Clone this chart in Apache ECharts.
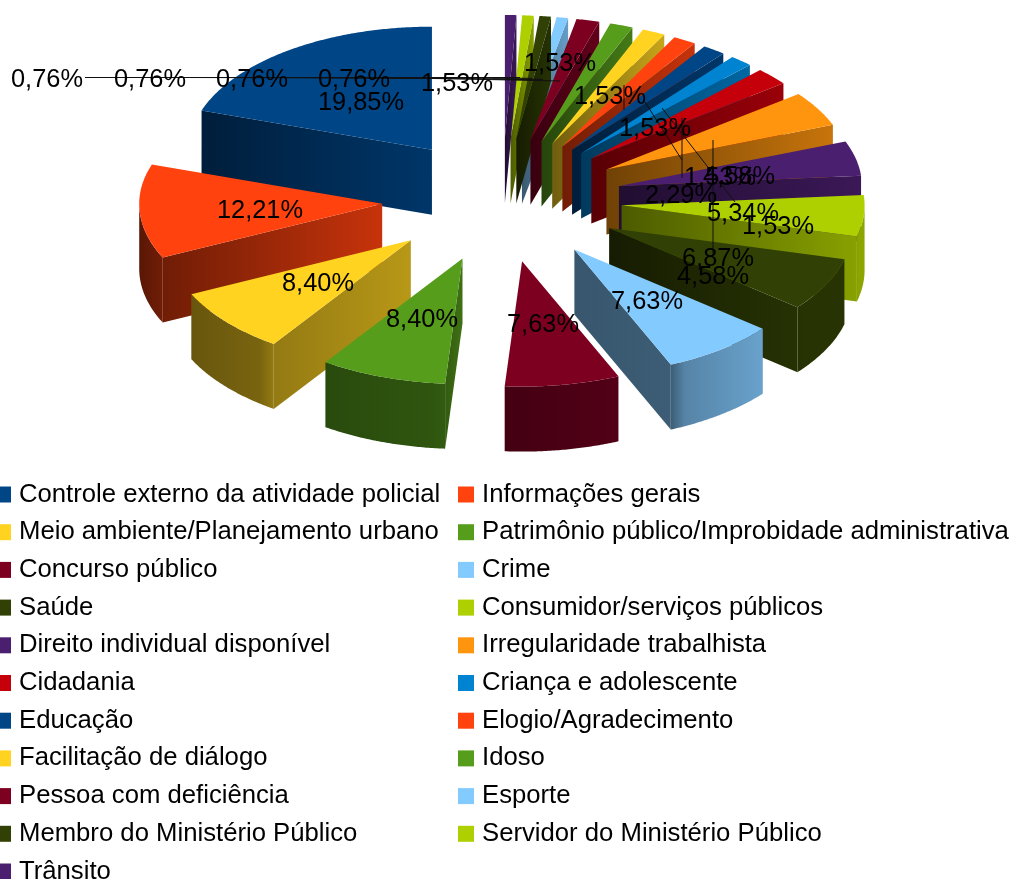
<!DOCTYPE html>
<html>
<head>
<meta charset="utf-8">
<title>Pizza 3D</title>
<style>
html,body{margin:0;padding:0;background:#fff;}
#main{width:1014px;height:879px;}
</style>
<script src="https://cdn.jsdelivr.net/npm/echarts@6/dist/echarts.min.js"></script>
</head>
<body>
<div id="main"></div>
<script>
// dados, sentido anti-horario a partir do topo
var categories=['Controle externo da atividade policial','Informações gerais','Meio ambiente/Planejamento urbano','Patrimônio público/Improbidade administrativa','Concurso público','Crime','Saúde','Consumidor/serviços públicos','Direito individual disponível','Irregularidade trabalhista','Cidadania','Criança e adolescente','Educação','Elogio/Agradecimento','Facilitação de diálogo','Idoso','Pessoa com deficiência','Esporte','Membro do Ministério Público','Servidor do Ministério Público','Trânsito'];
var percent=[19.85,12.21,8.40,8.40,7.63,7.63,6.87,5.34,4.58,4.58,2.29,1.53,1.53,1.53,1.53,1.53,1.53,0.76,0.76,0.76,0.76];
var colors=['#004586','#ff420e','#ffd320','#579d1c','#7e0021','#83caff','#314004','#aecf00','#4b1f6f','#ff950e','#c5000b','#0084d1','#004586','#ff420e','#ffd320','#579d1c','#7e0021','#83caff','#314004','#aecf00','#4b1f6f'];

// posicao dos rotulos e linhas de chamada (o LibreOffice espalhou tudo)
var labelPos=[[361,103],[260,211],[318,284],[422,320],[543,325],[647,302],[718,259],[743,214],[713,277],[739,177],[681,196],[778,227],[720,178],[655,129],[610,97],[560,64],[457,84],[354,80],[252,80],[150,80],[47,80]];
var leaders=[[85,77.5,520,77.5],[187,77.5,532,78.3],[289,77.5,543,79.3],[390,77.5,560,81],[493,79,543,80],[713,140,713,255],[645,102,682,160],[682,118,682,178],[662,108,735,202],[624,85,624,110]];

var cx=502,cy=200,ex=120,ey=62,rx=243,ry=123,depth=65;
var total=0;
for(var i=0;i<percent.length;i++){ total+=percent[i]; }

function rad(a){ return a*Math.PI/180; }

function shadeColor(hex,f){
	var r=parseInt(hex.substr(1,2),16),g=parseInt(hex.substr(3,2),16),b=parseInt(hex.substr(5,2),16);
	return 'rgb('+Math.round(r*f)+','+Math.round(g*f)+','+Math.round(b*f)+')';
}

// ponto do arco externo de uma fatia (a frente fica um pouco maior, perspectiva)
function rimPoint(ax,ay,a){
	var c=Math.cos(rad(a));
	return [ax-rx*Math.sin(rad(a)),ay-ry*(c<0?1.02:1)*c];
}

// luz das faces de corte: [fator esquerda, fator direita]
function cutShade(normal,a){
	if(normal<130) return [0.43,0.46];
	if(a<180&&normal>215) return [0.58,0.72];
	return [0.44,0.78];
}

function wallShade(a){
	if(a<180) return 0.35+0.2*(a-90)/90;
	if(a<195) return 0.55;
	return 0.55+0.25*Math.min(1,(a-195)/20);
}

function down(p){ return [p[0],p[1]+depth]; }

function cutFace(apex,rim,color,shade){
	var left=apex[0]<rim[0]?apex:rim, right=apex[0]<rim[0]?rim:apex;
	return {
		type:'polygon',
		shape:{points:[apex,rim,down(rim),down(apex)]},
		style:{fill:new echarts.graphic.LinearGradient(left[0],0,Math.max(right[0],left[0]+1),0,[
			{offset:0,color:shadeColor(color,shade[0])},
			{offset:1,color:shadeColor(color,shade[1])}
		],true)}
	};
}

function sliceItem(startPct,value,color){
	return function(params,api){
		var a0=startPct/total*360, a1=(startPct+api.value(0))/total*360, mid=(a0+a1)/2;
		var ax=cx-ex*Math.sin(rad(mid)), ay=cy-ey*Math.cos(rad(mid));
		var apex=[ax,ay], children=[], pts=[apex], a, n;

		// faces de corte voltadas para a frente
		var startNormal=a0-90, endNormal=a1+90;
		var startVisible=Math.cos(rad(startNormal))<0, endVisible=Math.cos(rad(endNormal))<0;
		var startCut=cutShade(startNormal,a0), endCut=cutShade(endNormal,a1);
		if(startVisible) children.push(cutFace(apex,rimPoint(ax,ay,a0),color,startCut));
		if(endVisible) children.push(cutFace(apex,rimPoint(ax,ay,a1),color,endCut));

		// parede externa, so a parte de baixo do arco
		var w0=Math.max(a0,90), w1=Math.min(a1,270);
		if(w1>w0){
			var topEdge=[], bottomEdge=[];
			n=Math.ceil(w1-w0)*2;
			for(var k=0;k<=n;k++){
				a=w0+(w1-w0)*k/n;
				var p=rimPoint(ax,ay,a);
				topEdge.push(p);
				bottomEdge.unshift(down(p));
			}
			var x0=topEdge[0][0], x1=topEdge[topEdge.length-1][0];
			var blend=Math.min(0.4,14/Math.max(1,x1-x0));
			var stops=[];
			if(startVisible&&w0==a0){
				stops.push({offset:0,color:shadeColor(color,startCut[1])});
				stops.push({offset:blend,color:shadeColor(color,wallShade(w0))});
			}else{
				stops.push({offset:0,color:shadeColor(color,wallShade(w0))});
			}
			if(endVisible&&w1==a1){
				stops.push({offset:1-blend,color:shadeColor(color,wallShade(w1))});
				stops.push({offset:1,color:shadeColor(color,endCut[0])});
			}else{
				stops.push({offset:1,color:shadeColor(color,wallShade(w1))});
			}
			children.push({
				type:'polygon',
				shape:{points:topEdge.concat(bottomEdge)},
				style:{fill:new echarts.graphic.LinearGradient(x0,0,Math.max(x1,x0+1),0,stops,true)}
			});
		}

		// tampa
		n=Math.ceil(a1-a0)*2;
		for(var j=0;j<=n;j++){
			pts.push(rimPoint(ax,ay,a0+(a1-a0)*j/n));
		}
		children.push({type:'polygon',shape:{points:pts},style:{fill:color}});
		return {type:'group',children:children};
	};
}

function labelText(v){
	return v.toFixed(2).replace('.',',')+'%';
}

var series=[];
var acum=0;
for(var s=0;s<categories.length;s++){
	var midAngle=(acum+percent[s]/2)/total*360;
	series.push({
		name:categories[s],
		type:'custom',
		coordinateSystem:'none',
		silent:true,
		animation:false,
		z:10+Math.round((1-Math.cos(rad(midAngle)))*100),
		itemStyle:{color:colors[s]},
		renderItem:sliceItem(acum,percent[s],colors[s]),
		data:[[percent[s]]]
	});
	acum+=percent[s];
}

// rotulos e chamadas por cima de tudo
series.push({
	name:'rotulos',
	type:'custom',
	coordinateSystem:'none',
	silent:true,
	animation:false,
	z:500,
	renderItem:function(params,api){
		var idx=params.dataIndex, children=[];
		if(idx==0){
			for(var l=0;l<leaders.length;l++){
				children.push({
					type:'line',
					shape:{x1:leaders[l][0],y1:leaders[l][1],x2:leaders[l][2],y2:leaders[l][3]},
					style:{stroke:'#111',lineWidth:1}
				});
			}
		}
		children.push({
			type:'text',
			style:{
				text:labelText(api.value(0)),
				x:labelPos[idx][0],y:labelPos[idx][1],
				fill:'#000',
				font:'25.4px "Liberation Sans"',
				textAlign:'center',
				textVerticalAlign:'middle',
				verticalAlign:'middle'
			}
		});
		return {type:'group',children:children};
	},
	data:percent.map(function(v){ return [v]; })
});

var leftCol=[],rightCol=[];
for(var c=0;c<categories.length;c++){
	if(c%2==0){ leftCol.push(categories[c]); }else{ rightCol.push(categories[c]); }
}

function legendCol(names,left){
	return {
		show:true,
		orient:'vertical',
		left:left,
		top:480,
		height:600,
		icon:'rect',
		itemWidth:16,
		itemHeight:16,
		itemGap:8.7,
		selectedMode:false,
		padding:0,
		textStyle:{fontFamily:'Liberation Sans',fontSize:25.7,color:'#000',padding:[0,0,0,3],lineHeight:29},
		data:names
	};
}

var myChart=echarts.init(document.getElementById('main'),null,{renderer:'canvas'});
myChart.setOption({
	animation:false,
	backgroundColor:'#fff',
	legend:[legendCol(leftCol,-5),legendCol(rightCol,458)],
	series:series
});
</script>
</body>
</html>
